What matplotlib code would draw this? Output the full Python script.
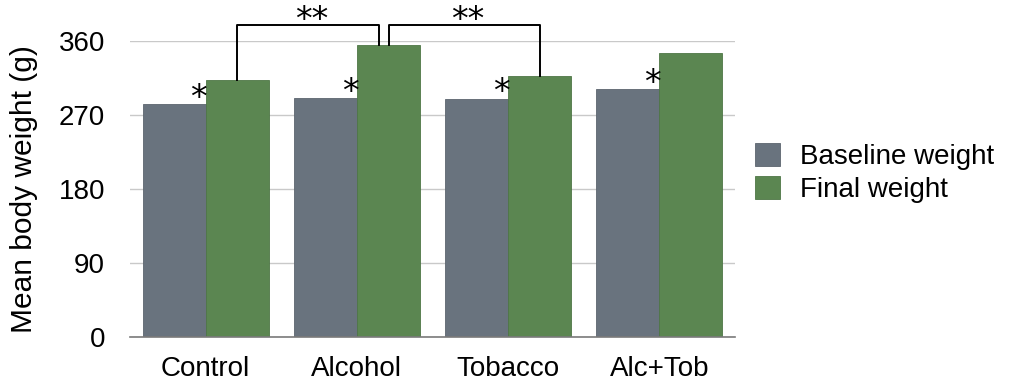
import matplotlib
matplotlib.use("Agg")
import matplotlib.pyplot as plt
import numpy as np

# Mean body weight per treatment group (g)
groups = ["Control", "Alcohol", "Tobacco", "Alc+Tob"]
baseline_weight = [283, 291, 290, 302]
final_weight = [313, 355, 318, 346]
series_labels = ["Baseline weight", "Final weight"]
y_ticks = [0, 90, 180, 270, 360]

plt.rcParams["font.family"] = ["Liberation Sans", "DejaVu Sans"]

fig = plt.figure(figsize=(10.11, 3.91), dpi=100)
ax = fig.add_axes([130 / 1011, 54 / 391, 605 / 1011, 296 / 391])

x = np.arange(len(groups))
w = 0.416
grey = "#69737e"
green = "#5b8651"

b1 = ax.bar(x - w / 2, baseline_weight, w, color=grey, edgecolor="#5c656f",
            linewidth=0.6, label=series_labels[0], zorder=3)
b2 = ax.bar(x + w / 2, final_weight, w, color=green, edgecolor="#4e7646",
            linewidth=0.6, label=series_labels[1], zorder=3)

ax.set_xlim(-0.5, len(groups) - 0.5)
ax.set_ylim(0, 360)
ax.set_yticks(y_ticks)
ax.set_yticklabels([str(t) for t in y_ticks])
ax.set_xticks(x)
ax.set_xticklabels(groups)
ax.tick_params(axis="both", length=0, labelsize=20, colors="black")
ax.tick_params(axis="y", pad=18)
ax.tick_params(axis="x", pad=14)
ax.yaxis.grid(True, color="#c9c9c9", linewidth=1.0, zorder=0)
for s in ["top", "right", "left"]:
    ax.spines[s].set_visible(False)
ax.spines["bottom"].set_color("#7a7a7a")
ax.spines["bottom"].set_linewidth(1.2)
ax.spines["bottom"].set_zorder(4)
ax.set_ylabel("Mean body weight (g)", fontsize=21.5, labelpad=15)

# single asterisks: baseline vs final within each group
for xi, yb in zip(x, baseline_weight):
    ax.annotate("*", xy=(xi, yb), xytext=(-5, 4), textcoords="offset points",
                ha="center", va="center", fontsize=24, family="DejaVu Sans",
                annotation_clip=False)

# double asterisks: between-group comparisons of final weight
top = 379
def bracket(xa, ya, xb, yb):
    ax.plot([xa, xa, xb, xb], [ya, top, top, yb], color="black", lw=1.4,
            clip_on=False, zorder=5)
    ax.text((xa + xb) / 2 + 0.02, top + 6.5, "**", ha="center", va="center",
            fontsize=24, family="DejaVu Sans", clip_on=False)

bracket(x[0] + w / 2, final_weight[0], x[1] + w / 2 - 0.06, final_weight[1])
bracket(x[1] + w / 2 + 0.006, final_weight[1], x[2] + w / 2, final_weight[2])

fig.legend(handles=[b1, b2], labels=series_labels, loc="upper left",
           bbox_to_anchor=(755 / 1011, 1 - 143 / 391), frameon=False,
           fontsize=20, handlelength=0.9, handleheight=0.9,
           handletextpad=0.72, labelspacing=0.2, borderpad=0, borderaxespad=0)

fig.savefig("out.png", dpi=100)
